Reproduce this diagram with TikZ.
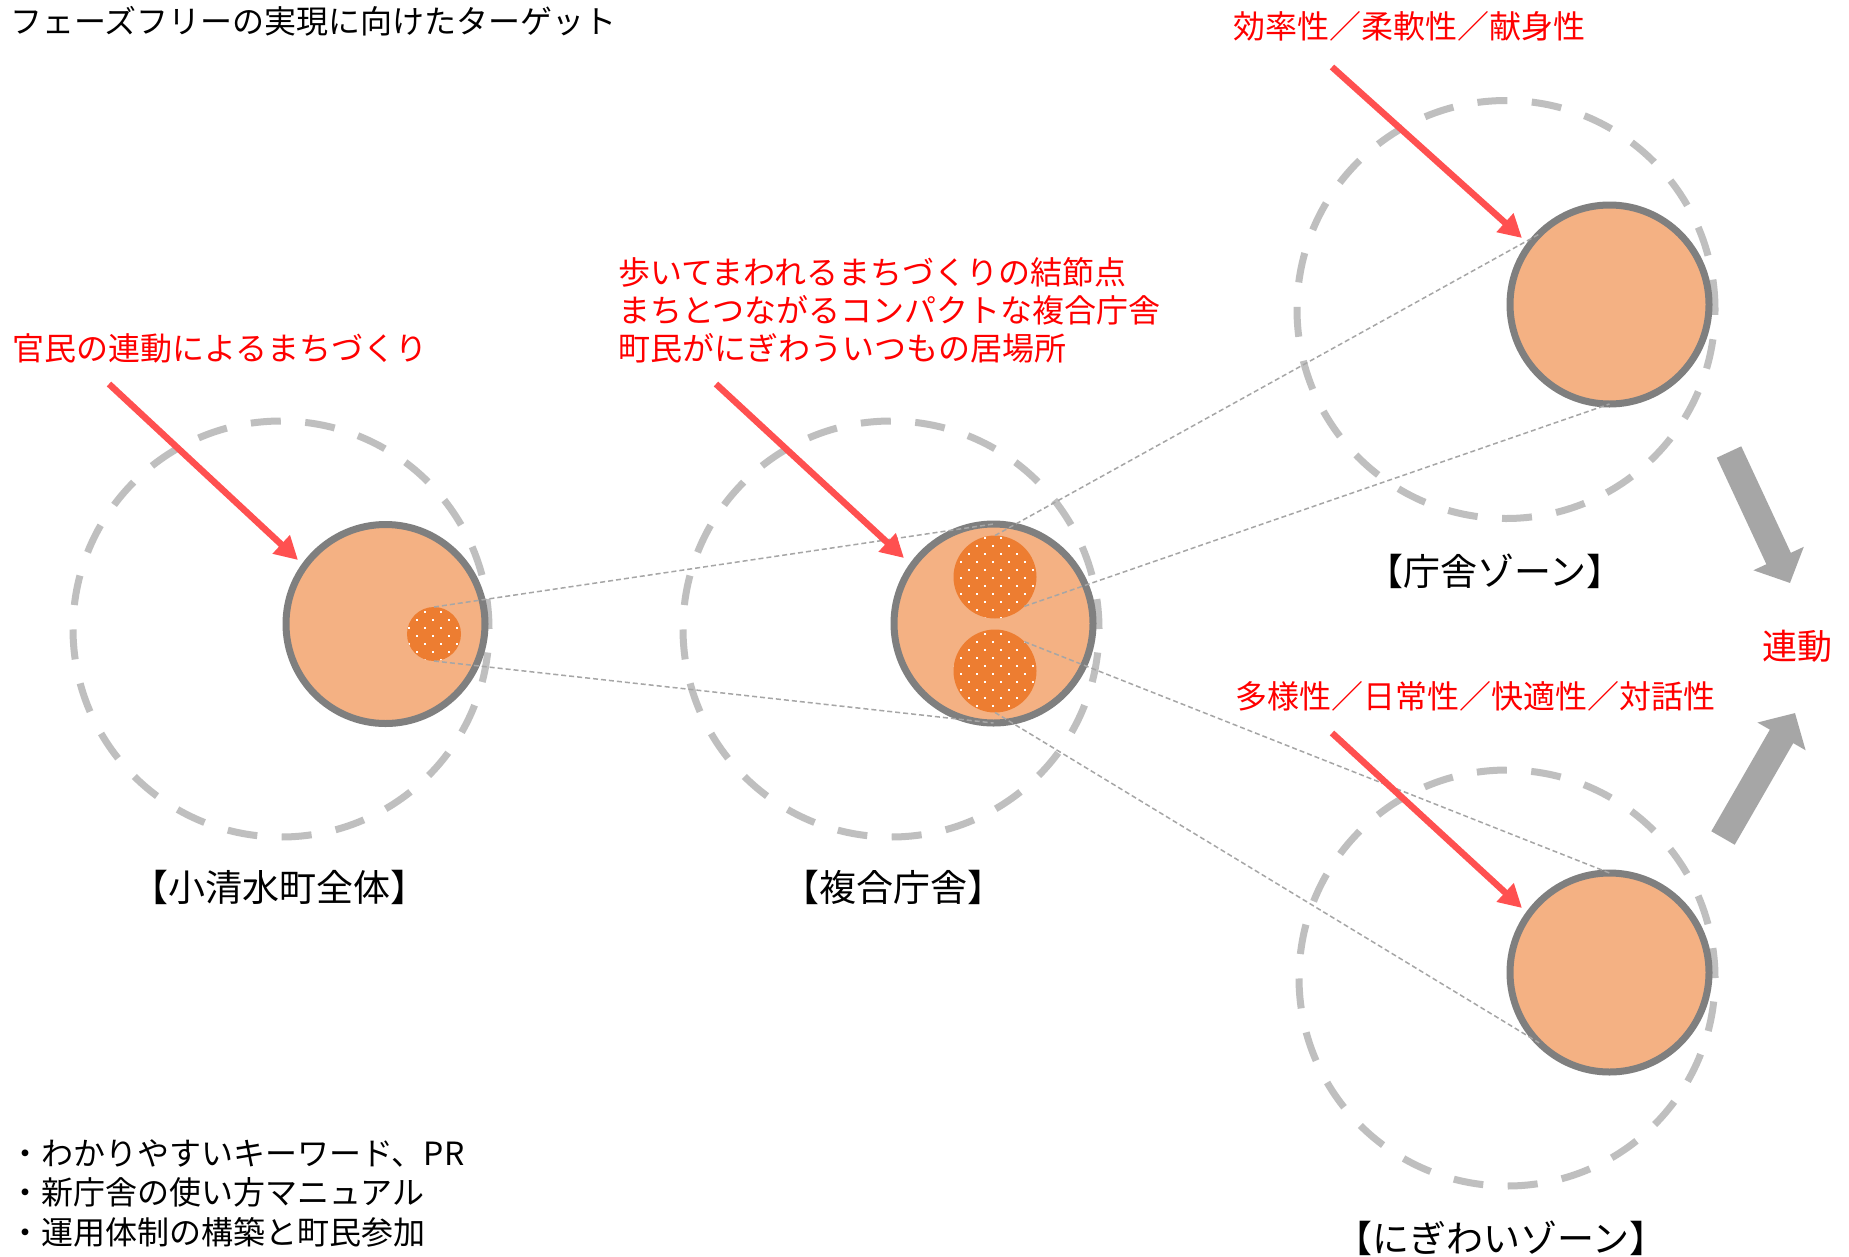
\documentclass[tikz,border=0pt]{standalone}
\usepackage{fontspec}
\setmainfont{Noto Sans CJK JP}
\usetikzlibrary{arrows.meta}
\definecolor{ring}{HTML}{BFBFBF}
\definecolor{rim}{HTML}{7F7F7F}
\definecolor{orng}{HTML}{ED7D31}
\definecolor{redarrow}{HTML}{FF5050}
\definecolor{bigarrow}{HTML}{A6A6A6}
\definecolor{connc}{HTML}{A6A6A6}
\definecolor{txtred}{HTML}{FF0000}
\tikzset{
  ringstyle/.style={draw=ring, line width=7pt, dash pattern=on 30pt off 24.5pt},
  incirc/.style={circle, draw=rim, line width=7pt, fill=orng!60!white, minimum size=199pt, inner sep=0pt, outer sep=0pt},
  subcirc/.style={circle, fill=orng, minimum size=#1, inner sep=0pt, outer sep=0pt},
  connline/.style={draw=connc, line width=1.5pt, dash pattern=on 5pt off 3pt},
  redarr/.style={draw=redarrow, line width=6.5pt, -{Triangle[width=24pt,length=23pt]}},
  bigarr/.style={draw=bigarrow, line width=27pt, -{Triangle[width=54pt,length=27pt]}},
  redtxt/.style={text=txtred, inner sep=0pt, font=\fontsize{32pt}{38pt}\selectfont},
  blacktxt/.style={text=black, inner sep=0pt, font=\fontsize{32pt}{36pt}\selectfont},
  zonelabel/.style={text=black, inner sep=0pt, font=\fontsize{37pt}{42pt}\selectfont},
}
\begin{document}
\begin{tikzpicture}[x=1pt,y=-1pt]
\fill[white] (0,0) rectangle (1849,1256);
\useasboundingbox (0,0) rectangle (1849,1256);

% dashed outer rings
\draw[ringstyle] (281,629) circle (208pt);
\draw[ringstyle] (891,629) circle (208pt);
\draw[ringstyle] (1506,309.5) circle (209pt);
\draw[ringstyle] (1507,978) circle (208pt);

% inner circles
\node[incirc] (c1in) at (385.5,624) {};
\node[incirc] (c2in) at (993.5,623.5) {};
\node[incirc] (c3in) at (1609.5,304.5) {};
\node[incirc] (c4in) at (1609.5,972.5) {};

% orange sub circles
\node[subcirc=54pt] (dot1) at (434,634) {};
\node[subcirc=83pt] (sub1) at (995,577) {};
\node[subcirc=83pt] (sub2) at (995,671) {};

% white dot patterns
\begin{scope}
\clip (434,634) circle (27pt);
\foreach \i in {0,...,8} \foreach \j in {0,...,4}
  {\fill[white] ({400+16*\j+8*mod(\i,2)},{603.3+8*\i}) rectangle ++(2,2);}
\end{scope}
\begin{scope}
\clip (995,577) circle (41.5pt);
\foreach \i in {0,...,11} \foreach \j in {0,...,6}
  {\fill[white] ({944+16*\j+8*mod(\i,2)},{529.3+8*\i}) rectangle ++(2,2);}
\end{scope}
\begin{scope}
\clip (995,671) circle (41.5pt);
\foreach \i in {0,...,11} \foreach \j in {0,...,6}
  {\fill[white] ({944+16*\j+8*mod(\i,2)},{625.3+8*\i}) rectangle ++(2,2);}
\end{scope}

% thin dashed connectors
\draw[connline] (dot1.north) -- (c2in.north);
\draw[connline] (dot1.south) -- (c2in.south);
\draw[connline] (sub1.north) -- (c3in.135);
\draw[connline] (sub1.-45) -- (c3in.south);
\draw[connline] (sub2.45) -- (c4in.north);
\draw[connline] (sub2.south) -- (c4in.-135);

% red arrows
\coordinate (r1s) at (109,384);  \coordinate (r1e) at (298,560);
\coordinate (r2s) at (716,384);  \coordinate (r2e) at (904,558);
\coordinate (r3s) at (1332,67);  \coordinate (r3e) at (1522,238);
\coordinate (r4s) at (1332,733); \coordinate (r4e) at (1522,908);
\draw[redarr] (r1s) -- (r1e);
\draw[redarr] (r2s) -- (r2e);
\draw[redarr] (r3s) -- (r3e);
\draw[redarr] (r4s) -- (r4e);

% big gray arrows
\coordinate (g1s) at (1729,452); \coordinate (g1e) at (1790,583);
\coordinate (g2s) at (1723,838); \coordinate (g2e) at (1795,713);
\draw[bigarr] (g1s) -- (g1e);
\draw[bigarr] (g2s) -- (g2e);

% texts
\node[blacktxt, anchor=west] (title) at (10,21) {フェーズフリーの実現に向けたターゲット};
\node[redtxt, anchor=west] (t1) at (12,348) {官民の連動によるまちづくり};
\node[redtxt, anchor=west, align=left] (t2) at (618,310) {歩いてまわれるまちづくりの結節点\\まちとつながるコンパクトな複合庁舎\\町民がにぎわういつもの居場所};
\node[redtxt, anchor=west] (t3) at (1233,26) {効率性／柔軟性／献身性};
\node[redtxt, anchor=west] (t4) at (1235,696) {多様性／日常性／快適性／対話性};
\node[redtxt, anchor=west, font=\fontsize{35pt}{40pt}\selectfont] (t5) at (1762,646) {連動};

\node[zonelabel] (l1) at (279,887) {【小清水町全体】};
\node[zonelabel] (l2) at (893,887) {【複合庁舎】};
\node[zonelabel] (l3) at (1495,571) {【庁舎ゾーン】};
\node[zonelabel] (l4) at (1501,1238) {【にぎわいゾーン】};

\node[blacktxt, anchor=west, align=left, font=\fontsize{32pt}{39.5pt}\selectfont] (bul) at (9,1193) {・わかりやすいキーワード、PR\\・新庁舎の使い方マニュアル\\・運用体制の構築と町民参加};
\end{tikzpicture}
\end{document}
